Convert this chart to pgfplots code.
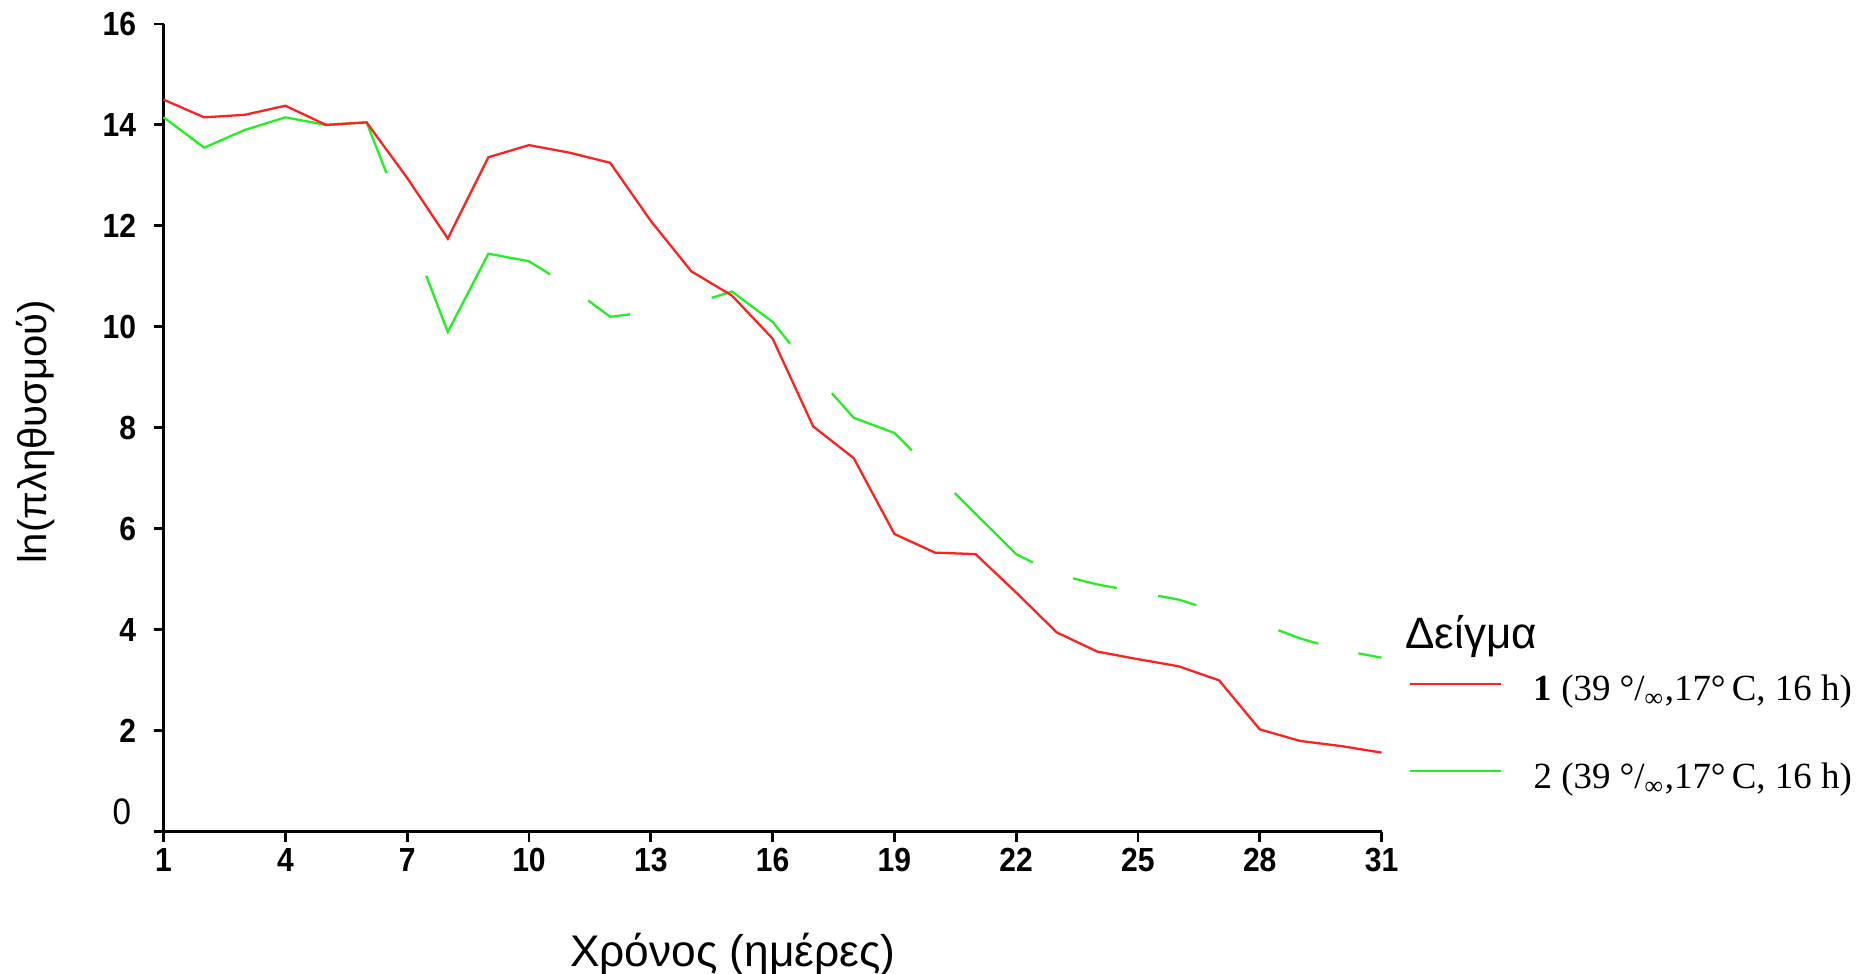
\documentclass[border=0pt]{standalone}
\usepackage{fontspec}
\setmainfont{Liberation Sans}
\newfontfamily\tickfont[FakeStretch=0.9]{Liberation Sans}
\newfontfamily\legfont{Liberation Serif}
\usepackage{pgfplots}
\pgfplotsset{compat=1.18}
\definecolor{sred}{HTML}{FF2020}
\definecolor{sgreen}{HTML}{22F022}

\begin{document}
\begin{tikzpicture}
\path[use as bounding box] (-1.636cm,-1.42cm) rectangle (17.085cm,8.319cm);
\begin{axis}[
  at={(0,0)}, anchor=south west,
  scale only axis, width=12.18cm, height=8.08cm,
  xmin=1, xmax=31, ymin=0, ymax=16,
  axis x line=bottom, axis y line=left,
  axis line style={-, line width=0.8pt},
  xtick={1,4,...,31}, ytick={2,4,...,16},
  extra y ticks={0},
  extra y tick style={yticklabel style={font=\tickfont\fontsize{10.5}{10}\selectfont, yshift=2mm, xshift=-0.5mm}},
  tick align=outside, major tick length=1mm,
  tick style={black, line width=0.8pt},
  /pgf/number format/assume math mode=true,
  ticklabel style={font=\tickfont\bfseries\fontsize{9.5}{10}\selectfont},
  yticklabel style={xshift=-0.5mm},
  xticklabel style={yshift=0.6mm},
  xlabel={Χρόνος (ημέρες)}, ylabel={ln(πληθυσμού)},
  xlabel style={at={(axis description cs:0.4675,-0.152)}, anchor=center,
    font=\fontsize{12.6}{14}\selectfont},
  ylabel style={at={(axis description cs:-0.1048,0.495)}, anchor=center,
    font=\fontsize{11.4}{14}\selectfont},
  clip=false,
  legend style={at={(axis description cs:1.0222,0.1206)}, anchor=west,
    draw=none, fill=none, inner sep=0pt, row sep=4.25mm, column sep=2.4mm,
    font=\legfont\fontsize{10.5}{11}\selectfont},
  legend image code/.code={\draw[#1] (0cm,0.07cm) -- (0.91cm,0.07cm);},
  legend cell align=left,
  reverse legend,
]

% sample 2 (drawn first, the red line lies over it)
\addplot[color=sgreen, line width=0.65pt,
  dash pattern=on 77.93pt off 31.33pt on 61.03pt off 13.16pt on 13.48pt off 23.74pt
    on 28.39pt off 18.49pt on 28.70pt off 17.28pt on 29.90pt off 12.37pt
    on 12.78pt off 11.99pt on 11.19pt off 24.43pt on 11.95pt off 11.78pt on 20pt off 50pt]
  coordinates {
    (1,14.15)(2,13.55)(3,13.9)(4,14.15)(5,14.0)(6,14.05)(7,12.0)(8,9.9)
    (9,11.45)(10,11.3)(11,10.8)(12,10.2)(13,10.3)(14,10.45)(15,10.7)(16,10.1)
    (17,9.1)(18,8.2)(19,7.9)(20,7.1)(21,6.3)(22,5.5)(23,5.1)(24,4.9)
    (25,4.75)(26,4.6)(27,4.35)(28,4.13)(29,3.83)(30,3.6)(31,3.45)
  };
\addlegendentry{2 (39 °/\textsubscript{∞},17°\,C, 16 h)}

% sample 1
\addplot[color=sred, line width=0.65pt]
  coordinates {
    (1,14.5)(2,14.15)(3,14.2)(4,14.38)(5,14.0)(6,14.05)(7,12.95)(8,11.75)
    (9,13.36)(10,13.6)(11,13.45)(12,13.25)(13,12.1)(14,11.1)(15,10.62)(16,9.77)
    (17,8.03)(18,7.4)(19,5.9)(20,5.53)(21,5.5)(22,4.74)(23,3.95)(24,3.57)
    (25,3.42)(26,3.28)(27,3.0)(28,2.03)(29,1.8)(30,1.7)(31,1.57)
  };
\addlegendentry{{\bfseries 1} (39 °/\textsubscript{∞},17°\,C, 16 h)}

\node[anchor=west, inner sep=0pt, font=\fontsize{12.5}{14}\selectfont]
  at (axis description cs:1.0192,0.2415) {Δείγμα};

\end{axis}
\end{tikzpicture}
\end{document}
